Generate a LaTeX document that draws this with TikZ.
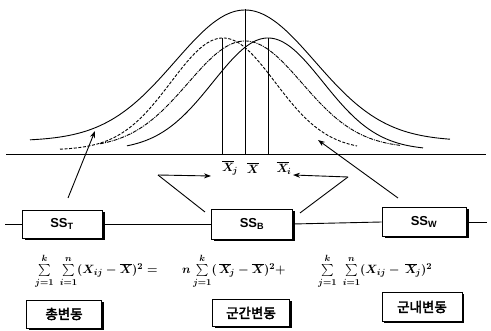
\documentclass[tikz,border=0pt]{standalone}
\usepackage{fontspec}
\usepackage{amsmath}
\usetikzlibrary{arrows.meta,shadows,calc}
\newfontfamily\krfont{Noto Sans CJK KR}[FakeBold=3]
\newfontfamily\ssfont{Liberation Sans}
\newcommand{\uplim}[1]{\raisebox{1.5pt}{$\scriptstyle\boldsymbol{#1}$}}
\begin{document}
\begin{tikzpicture}[x=1pt,y=-1pt,
  declare function={g(\t,\c,\s)=exp(-0.5*((\t-\c)/\s)*((\t-\c)/\s));},
  curve/.style={line width=0.9pt, smooth, samples=120},
  vline/.style={line width=1pt},
  arr/.style={line width=0.9pt, -{Stealth[length=7pt,width=5pt]}},
  link/.style={line width=0.9pt},
  ssbox/.style={draw, line width=0.8pt, fill=white, inner sep=0pt,
    drop shadow={shadow xshift=2.5pt, shadow yshift=-1.8pt, opacity=1, fill=black},
    font=\ssfont\bfseries\fontsize{13}{15}\selectfont},
  krbox/.style={draw, line width=0.8pt, fill=white, inner sep=0pt,
    drop shadow={shadow xshift=2pt, shadow yshift=-1.8pt, opacity=1, fill=black},
    font=\krfont\fontsize{13.5}{15}\selectfont},
  mean/.style={font=\fontsize{13}{15}\selectfont},
  eq/.style={anchor=base west, inner sep=0pt, font=\fontsize{12.5}{14}\selectfont}
]
\useasboundingbox (0,0) rectangle (491,331);
% baseline
\coordinate (bl) at (6,155);
\coordinate (br) at (486,155);
\draw[line width=1pt] (bl) -- (br);
% curves
\draw[curve] plot[domain=30:450] (\x,{141-131*g(\x,245,70)});
\draw[curve, dash pattern=on 3pt off 1.6pt] plot[domain=60:357] (\x,{150-112*g(\x,223,52)});
\draw[curve, dash pattern=on 4pt off 1pt on 1pt off 1pt] plot[domain=100:400] (\x,{148-107*g(\x,245,57)});
\draw[curve] plot[domain=127:423] (\x,{150-112*g(\x,268,55)});
% vertical mean lines
\coordinate (vj) at (222,155); \coordinate (vjt) at (222,38);
\coordinate (v) at (245,155);  \coordinate (vt) at (245,9);
\coordinate (vi) at (268,155); \coordinate (vit) at (268,38);
\draw[vline] (vj) -- (vjt);
\draw[vline] (v) -- (vt);
\draw[vline] (vi) -- (vit);
% mean labels
\node[mean] (xj) at (230,168) {$\boldsymbol{\overline{X}_{\!j}}$};
\node[mean] (xb) at (253,168) {$\boldsymbol{\overline{X}}$};
\node[mean] (xi) at (284,168) {$\boldsymbol{\overline{X}_{\!i}}$};
% SS boxes
\node[ssbox, minimum width=80pt, minimum height=28pt] (sst) at (62,224) {SS\textsubscript{T}};
\node[ssbox, minimum width=81pt, minimum height=30pt] (ssb) at (252,224) {SS\textsubscript{B}};
\node[ssbox, minimum width=84pt, minimum height=29pt] (ssw) at (424,222) {SS\textsubscript{W}};
\coordinate (hl) at (5,224);
\coordinate (hr) at (487,222);
\draw[link] (hl) -- (sst.west);
\draw[link] (sst.east) -- (ssb.west);
\draw[link] (ssb.east) -- (ssw.west);
\draw[link] (ssw.east) -- (hr);
% arrows to curves
\coordinate (at) at (68,198); \coordinate (atip) at (95,131);
\draw[arr] (at) -- (atip);
\coordinate (aw) at (398,198); \coordinate (awtip) at (318,140);
\draw[arr] (aw) -- (awtip);
% arrows from SS_B to means
\coordinate (lb) at (205,212); \coordinate (lc) at (158,175); \coordinate (ltip) at (211,176);
\draw[link] (lb) -- (lc);
\draw[arr] (lc) -- (ltip);
\coordinate (rb) at (300,213); \coordinate (rc) at (348,177); \coordinate (rtip) at (293,175);
\draw[link] (rb) -- (rc);
\draw[arr] (rc) -- (rtip);
% equations
\node[eq] (e1) at (35,274) {$\boldsymbol{\sum\limits_{j=1}^{\uplim{k}}\;\sum\limits_{i=1}^{\uplim{n}}(X_{ij}-\overline{X})^2=}$};
\node[eq] (e2) at (182,274) {$\boldsymbol{n\sum\limits_{j=1}^{\uplim{k}}(\,\overline{X}_{\!j}-\overline{X})^2+}$};
\node[eq] (e3) at (318,274) {$\boldsymbol{\sum\limits_{j=1}^{\uplim{k}}\;\sum\limits_{i=1}^{\uplim{n}}(X_{ij}-\,\overline{X}_{\!j})^2}$};
% Korean boxes
\node[krbox, minimum width=75pt, minimum height=28pt] (k1) at (64,314) {총변동};
\node[krbox, minimum width=77pt, minimum height=27pt] (k2) at (251,313) {군간변동};
\node[krbox, minimum width=80pt, minimum height=29pt] (k3) at (422,307) {군내변동};
\end{tikzpicture}
\end{document}
